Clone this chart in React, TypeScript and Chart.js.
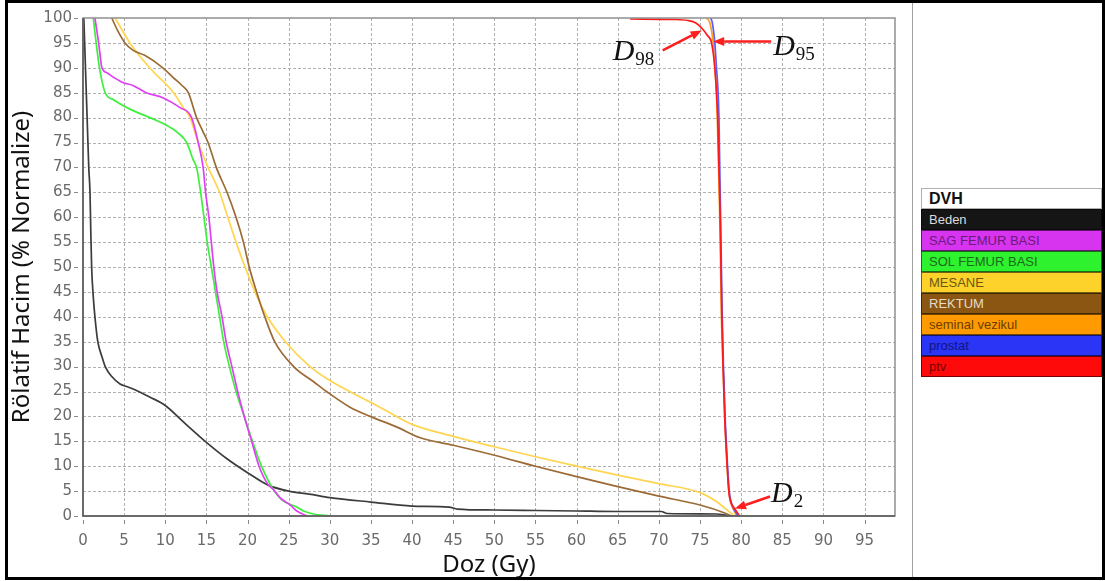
import React, { useEffect, useRef } from "react";
import { Chart, registerables } from "chart.js";

Chart.register(...registerables);

// ---------- axes ----------
const doseTicks = [0, 5, 10, 15, 20, 25, 30, 35, 40, 45, 50, 55, 60, 65, 70, 75, 80, 85, 90, 95];
const volumeTicks = [0, 5, 10, 15, 20, 25, 30, 35, 40, 45, 50, 55, 60, 65, 70, 75, 80, 85, 90, 95, 100];
const doseMin = 0;
const doseMax = 98.7;
const volumeMin = 0;
const volumeMax = 100;
const xTitle = "Doz (Gy)";
const yTitle = "Rölatif Hacim (% Normalize)";
const legendTitle = "DVH";

// ---------- series ----------
const seriesNames = ["Beden", "SAG FEMUR BASI", "SOL FEMUR BASI", "MESANE", "REKTUM", "seminal vezikul", "prostat", "ptv"];

const bedenDose = [0.1, 0.3, 0.5, 0.7, 0.85, 0.95, 1.05, 1.25, 1.45, 1.8, 2.3, 2.7, 3.5, 4.5, 5.3, 6.5, 8.1, 10, 12.2, 15, 17.5, 20, 22.5, 25, 27.5, 30, 35, 40, 44.5, 45.5, 50, 55, 60, 65, 70.3, 71, 77, 78.5, 79.5];
const bedenVolume = [100, 90, 80, 70, 65, 57, 50, 44, 40, 35, 32, 30, 28, 26.5, 26, 25.2, 23.9, 22.2, 18.9, 14.8, 11.5, 8.7, 6.2, 5.0, 4.4, 3.7, 2.8, 2.0, 1.8, 1.4, 1.2, 1.1, 1.0, 0.9, 0.9, 0.5, 0.4, 0.1, 0];

const sagDose = [1.45, 1.9, 2.3, 2.9, 3.8, 4.9, 6, 7.7, 9.7, 11.8, 13.2, 14.0, 14.6, 14.9, 15.3, 15.6, 15.9, 16.3, 16.9, 17.4, 18.1, 18.8, 19.6, 20.5, 21.4, 22.5, 23.1, 24.0, 25.2, 26.0, 26.8, 27.3];
const sagVolume = [100, 95, 90, 89, 88, 87, 86.5, 85, 84, 82, 80, 75, 70, 65, 60, 55, 50, 45, 40, 35, 30, 25, 20, 15, 10, 6.3, 5.4, 3.6, 2.2, 1.0, 0.3, 0];

const solDose = [1.25, 1.6, 2.0, 2.7, 3.7, 5.7, 8.1, 10.2, 11.5, 12.6, 13.4, 13.8, 14.3, 14.7, 15.1, 15.6, 16.1, 16.6, 17.1, 17.8, 18.6, 19.6, 20.6, 21.7, 23.1, 24.2, 26.0, 26.8, 28, 30];
const solVolume = [100, 95, 90, 85, 83.6, 81.7, 80, 78.4, 77, 75, 71.5, 70, 65, 60, 55, 50, 45, 40, 35, 30, 25, 20, 15, 10, 5.4, 3.2, 1.8, 1.0, 0.4, 0];

const mesaneDose = [3.9, 5.7, 8.1, 11, 12.2, 13, 14, 14.7, 15.2, 16.6, 17.6, 18.6, 19.7, 20.9, 22.4, 24.6, 27.6, 30, 32.4, 35.7, 40, 45, 50, 55, 60, 65, 70, 75, 77, 78, 79.2];
const mesaneVolume = [100, 95, 90, 85, 82, 80, 75, 72, 70, 65, 60, 55, 50, 45, 40, 35, 30, 27.2, 25, 22.2, 18.4, 16, 13.9, 11.9, 10, 8.2, 6.5, 4.7, 2.9, 1.6, 0];

const rektumDose = [3.5, 4.2, 5.1, 6.1, 7.5, 9.7, 11, 12, 12.8, 13.8, 14.5, 15.2, 16.2, 17.5, 18.6, 19.5, 20.2, 21.1, 22.1, 23.3, 25.6, 28, 29.6, 32.4, 34.9, 38.1, 41, 45, 50, 55, 60, 65, 70, 75, 78, 78.8];
const rektumVolume = [100, 97.5, 95, 93.5, 92.5, 90, 88, 86.5, 85, 80, 77.5, 75, 70, 65, 60, 55, 50, 45, 40, 35, 30, 27, 25, 21.9, 20, 17.9, 15.7, 14.2, 12.2, 10, 7.9, 5.9, 4.0, 2.2, 0.6, 0];

const seminalDose = [75.8, 76.2, 76.6, 76.8, 77.0, 77.1, 77.25, 77.4, 77.5, 77.6, 77.8, 78.0, 78.3, 78.5, 78.7, 79.0, 79.5];
const seminalVolume = [100, 99, 95, 90, 85, 80, 70, 60, 50, 40, 30, 20, 10, 5, 3, 1.5, 0];

const prostatDose = [76.3, 76.5, 76.8, 77.0, 77.2, 77.3, 77.4, 77.5, 77.6, 77.7, 77.85, 78.05, 78.35, 78.55, 78.75, 79.1, 79.6];
const prostatVolume = [100, 99, 95, 90, 85, 80, 70, 60, 50, 40, 30, 20, 10, 5, 3, 1.5, 0];

const ptvDose = [66.5, 72, 73.5, 74.5, 75.2, 75.9, 76.4, 76.8, 77.0, 77.15, 77.3, 77.45, 77.55, 77.65, 77.8, 78.0, 78.3, 78.5, 78.7, 79.2, 79.8];
const ptvVolume = [99.8, 99.7, 99.5, 99, 98, 96.5, 95, 90, 85, 80, 70, 60, 50, 40, 30, 20, 10, 5, 3, 1.5, 0];

// ---------- dose markers (D98, D95, D2) ----------
const markerSubscripts = ["98", "95", "2"];
const markerDose = [75.2, 76.6, 79.25];
const markerVolume = [97.5, 95.3, 1.5];

// ---------- styles ----------
const lineColors = ["#3c3c3c", "#e040f5", "#3cf03c", "#ffd54f", "#9c6b35", "#ff9e1a", "#5c5cff", "#ff1a1a"];
const lineOrder = [6, 3, 4, 5, 2, 7, 1, 0];
const legendFill = ["#151515", "#d734f0", "#2ef22e", "#fdd22a", "#8b5611", "#ff9a00", "#2a35f5", "#ff0a0a"];
const legendText = ["#dcdcdc", "#6b1a7a", "#1c6a1c", "#6a5810", "#e6dcc8", "#6a3e00", "#141480", "#7a0000"];
// pixel offsets from tip: tail, text start
const markerTail = [[-39, 20], [58, 0], [35, -12]];
const markerText = [[-89, 30], [60, 14], [36, -7]];

const seriesDose = [bedenDose, sagDose, solDose, mesaneDose, rektumDose, seminalDose, prostatDose, ptvDose];
const seriesVolume = [bedenVolume, sagVolume, solVolume, mesaneVolume, rektumVolume, seminalVolume, prostatVolume, ptvVolume];

const decorPlugin = {
  id: "dvhDecor",
  beforeDatasetsDraw(chart: any) {
    const { ctx, chartArea: a, scales } = chart;
    const x = scales.x;
    const y = scales.y;
    ctx.save();
    ctx.strokeStyle = "#b0b0b0";
    ctx.lineWidth = 1;
    ctx.setLineDash([3, 2]);
    for (const v of doseTicks) {
      if (v === doseMin) continue;
      const px = Math.round(x.getPixelForValue(v)) + 0.5;
      ctx.beginPath();
      ctx.moveTo(px, a.top);
      ctx.lineTo(px, a.bottom);
      ctx.stroke();
    }
    for (const v of volumeTicks) {
      if (v === volumeMin || v === volumeMax) continue;
      const py = Math.round(y.getPixelForValue(v)) + 0.5;
      ctx.beginPath();
      ctx.moveTo(a.left, py);
      ctx.lineTo(a.right, py);
      ctx.stroke();
    }
    ctx.restore();
  },
  afterDatasetsDraw(chart: any) {
    const { ctx, chartArea: a, scales } = chart;
    const x = scales.x;
    const y = scales.y;
    ctx.save();
    ctx.setLineDash([]);
    ctx.strokeStyle = "#909090";
    ctx.lineWidth = 1.5;
    ctx.strokeRect(a.left, a.top, a.right - a.left, a.bottom - a.top);
    ctx.strokeStyle = "#555";
    ctx.lineWidth = 1.5;
    ctx.beginPath();
    ctx.moveTo(a.left, a.top);
    ctx.lineTo(a.left, a.bottom);
    ctx.lineTo(a.right, a.bottom);
    ctx.stroke();
    ctx.strokeStyle = "#888";
    ctx.lineWidth = 1;
    for (const v of volumeTicks) {
      const py = Math.round(y.getPixelForValue(v)) + 0.5;
      ctx.beginPath();
      ctx.moveTo(a.left - 9, py);
      ctx.lineTo(a.left - 5, py);
      ctx.stroke();
    }
    for (const v of doseTicks) {
      const px = Math.round(x.getPixelForValue(v)) + 0.5;
      ctx.beginPath();
      ctx.moveTo(px, a.bottom + 4);
      ctx.lineTo(px, a.bottom + 8);
      ctx.stroke();
    }
    for (let i = 0; i < markerSubscripts.length; i++) {
      const tx = x.getPixelForValue(markerDose[i]);
      const ty = y.getPixelForValue(markerVolume[i]);
      const sx = tx + markerTail[i][0];
      const sy = ty + markerTail[i][1];
      const ang = Math.atan2(ty - sy, tx - sx);
      const head = 11;
      const bx = tx - head * Math.cos(ang);
      const by = ty - head * Math.sin(ang);
      ctx.strokeStyle = "#ff1e1e";
      ctx.fillStyle = "#ff1e1e";
      ctx.lineWidth = 2.5;
      ctx.beginPath();
      ctx.moveTo(sx, sy);
      ctx.lineTo(bx, by);
      ctx.stroke();
      ctx.beginPath();
      ctx.moveTo(tx, ty);
      ctx.lineTo(bx + 4.5 * Math.sin(ang), by - 4.5 * Math.cos(ang));
      ctx.lineTo(bx - 4.5 * Math.sin(ang), by + 4.5 * Math.cos(ang));
      ctx.closePath();
      ctx.fill();
      const lx = tx + markerText[i][0];
      const ly = ty + markerText[i][1];
      ctx.fillStyle = "#111";
      ctx.textBaseline = "alphabetic";
      ctx.textAlign = "left";
      ctx.font = 'italic 30px "Liberation Serif", "DejaVu Serif", serif';
      ctx.fillText("D", lx, ly);
      const w = ctx.measureText("D").width;
      ctx.font = '19px "Liberation Serif", "DejaVu Serif", serif';
      ctx.fillText(markerSubscripts[i], lx + w + 1, ly + 5);
    }
    ctx.restore();
  },
};

function DvhChart() {
  const ref = useRef<HTMLCanvasElement | null>(null);
  useEffect(() => {
    if (!ref.current) return;
    const datasets = seriesNames.map((name, i) => ({
      label: name,
      data: seriesDose[i].map((d, k) => ({ x: d, y: seriesVolume[i][k] })),
      borderColor: lineColors[i],
      backgroundColor: lineColors[i],
      borderWidth: 1.7,
      pointRadius: 0,
      cubicInterpolationMode: "monotone",
      fill: false,
      order: lineOrder[i],
    }));
    const tickFont = { family: '"DejaVu Sans", Verdana, sans-serif', size: 15 };
    const titleFont = { family: '"Noto Sans", "Open Sans", sans-serif', size: 24, lineHeight: 1 };
    const chart = new Chart(ref.current, {
      type: "line",
      data: { datasets },
      plugins: [decorPlugin],
      options: {
        animation: false,
        responsive: false,
        events: [],
        layout: { padding: { top: 8, right: 17, left: 0, bottom: 0 } },
        plugins: { legend: { display: false }, tooltip: { enabled: false } },
        scales: {
          x: {
            type: "linear",
            min: doseMin,
            max: doseMax,
            afterBuildTicks: (s: any) => {
              s.ticks = doseTicks.map((v) => ({ value: v }));
            },
            afterFit: (s: any) => {
              s.height = 61;
            },
            grid: { display: false, drawTicks: false },
            border: { display: false },
            ticks: { color: "#6a6a6a", font: tickFont, padding: 16, maxRotation: 0, autoSkip: false },
            title: {
              display: true,
              text: xTitle,
              color: "#111",
              font: titleFont,
              padding: { top: 0, bottom: 0 },
            },
          },
          y: {
            type: "linear",
            min: volumeMin,
            max: volumeMax,
            afterBuildTicks: (s: any) => {
              s.ticks = volumeTicks.map((v) => ({ value: v }));
            },
            afterFit: (s: any) => {
              s.width = 75;
            },
            grid: { display: false, drawTicks: false },
            border: { display: false },
            ticks: { color: "#6a6a6a", font: tickFont, padding: 11, autoSkip: false },
            title: {
              display: true,
              text: yTitle,
              color: "#111",
              font: titleFont,
              padding: { top: 2, bottom: 0 },
            },
          },
        },
      } as any,
    });
    return () => chart.destroy();
  }, []);
  return (
    <canvas
      ref={ref}
      width={904}
      height={579}
      style={{ position: "absolute", left: 8, top: -2, width: 904, height: 579 }}
    />
  );
}

export default function App() {
  return (
    <div
      style={{
        position: "fixed",
        left: 0,
        top: 0,
        width: 1105,
        height: 581,
        background: "#fff",
        overflow: "hidden",
      }}
    >
      <div
        style={{
          position: "absolute",
          left: 5,
          top: 0,
          width: 1100,
          height: 580,
          border: "3px solid #000",
          boxSizing: "border-box",
        }}
      />
      <div style={{ position: "absolute", left: 912, top: 3, width: 1, height: 574, background: "#a0a0a0" }} />
      <DvhChart />
      <div
        style={{
          position: "absolute",
          left: 921,
          top: 188,
          width: 181,
          fontFamily: '"Liberation Sans", Arial, sans-serif',
        }}
      >
        <div
          style={{
            height: 21,
            background: "#fff",
            border: "1px solid #b0b0b0",
            boxSizing: "border-box",
            fontWeight: "bold",
            fontSize: 16,
            lineHeight: "19px",
            paddingLeft: 7,
            color: "#111",
          }}
        >
          {legendTitle}
        </div>
        {seriesNames.map((n, i) => (
          <div
            key={n}
            style={{
              height: 21,
              background: legendFill[i],
              border: "1px solid rgba(0,0,0,0.55)",
              boxSizing: "border-box",
              fontSize: 13,
              lineHeight: "19px",
              paddingLeft: 7,
              color: legendText[i],
              whiteSpace: "nowrap",
            }}
          >
            {n}
          </div>
        ))}
      </div>
    </div>
  );
}
